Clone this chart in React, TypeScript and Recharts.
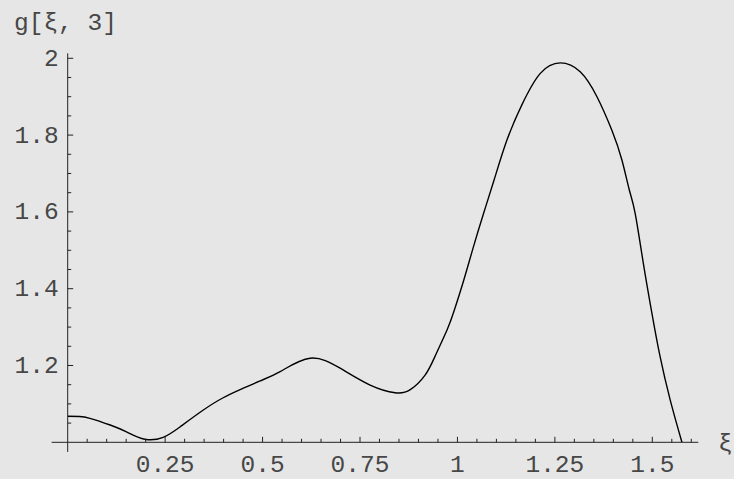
import React from "react";
import { LineChart, Line, XAxis, YAxis, ReferenceLine } from "recharts";

const xiValues = [
  0, 0.03, 0.057, 0.109, 0.151, 0.198, 0.245, 0.288, 0.348, 0.399, 0.447, 0.494, 0.545,
  0.622, 0.699, 0.776, 0.84, 0.879, 0.917, 0.943, 0.973, 0.99, 1.015, 1.041, 1.067, 1.094,
  1.127, 1.165, 1.212, 1.264, 1.315, 1.358, 1.396, 1.422, 1.441, 1.456, 1.477, 1.499,
  1.52, 1.546, 1.576,
];
const gValues = [
  1.068, 1.067, 1.0625, 1.045, 1.027, 1.008, 1.013, 1.04, 1.084, 1.116, 1.139, 1.16, 1.184,
  1.219, 1.193, 1.149, 1.129, 1.137, 1.175, 1.225, 1.292, 1.338, 1.418, 1.509, 1.596, 1.683,
  1.787, 1.878, 1.96, 1.988, 1.965, 1.9, 1.813, 1.735, 1.657, 1.596, 1.466, 1.336,
  1.223, 1.11, 1.0,
];

const xTicks = [
  0.05, 0.1, 0.15, 0.2, 0.25, 0.3, 0.35, 0.4, 0.45, 0.5, 0.55, 0.6, 0.65, 0.7, 0.75,
  0.8, 0.85, 0.9, 0.95, 1, 1.05, 1.1, 1.15, 1.2, 1.25, 1.3, 1.35, 1.4, 1.45, 1.5, 1.55, 1.6,
];
const xMajorLabels: Record<string, string> = {
  "0.25": "0.25", "0.5": "0.5", "0.75": "0.75", "1": "1", "1.25": "1.25", "1.5": "1.5",
};
const yTicks = [
  1.05, 1.1, 1.15, 1.2, 1.25, 1.3, 1.35, 1.4, 1.45, 1.5, 1.55, 1.6, 1.65, 1.7, 1.75,
  1.8, 1.85, 1.9, 1.95, 2,
];
const yMajorLabels: Record<string, string> = {
  "1.2": "1.2", "1.4": "1.4", "1.6": "1.6", "1.8": "1.8", "2": "2",
};

const xDomain: [number, number] = [0, 1.618];
const yDomain: [number, number] = [1, 2.013];
const xAxisStart = -0.0413;
const yAxisStart = 0.975;

const data = xiValues.map((xi, i) => ({ xi, g: gValues[i] }));

const FONT = "'Liberation Mono', 'DejaVu Sans Mono', monospace";
const TEXT = "#474747";
const AXIS = "#222";
const FS = 24.5;

const XTick = (props: any) => {
  const { x, y, payload } = props;
  const key = String(payload.value);
  const label = xMajorLabels[key];
  const len = label ? 5.5 : 3.5;
  return (
    <g>
      <line x1={x} y1={y} x2={x} y2={y - len} stroke={AXIS} strokeWidth={1} />
      {label && (
        <text x={x} y={y + 29.7} textAnchor="middle" fontFamily={FONT} fontSize={FS} fill={TEXT}>
          {label}
        </text>
      )}
    </g>
  );
};

const YTick = (props: any) => {
  const { x, y, payload } = props;
  const key = String(payload.value);
  const label = yMajorLabels[key];
  const len = label ? 5.5 : 3.5;
  return (
    <g>
      <line x1={x} y1={y} x2={x + len} y2={y} stroke={AXIS} strokeWidth={1} />
      {label && (
        <text x={x - 9} y={y + 7.6} textAnchor="end" fontFamily={FONT} fontSize={FS} fill={TEXT}>
          {label}
        </text>
      )}
    </g>
  );
};

export default function App() {
  return (
    <div
      style={{
        position: "absolute",
        left: 0,
        top: 0,
        width: 734,
        height: 479,
        background: "#e6e6e6",
        overflow: "hidden",
      }}
    >
      <LineChart
        width={734}
        height={479}
        data={data}
        margin={{ top: 53.3, right: 35.7, bottom: 6.7, left: 7.7 }}
      >
        <XAxis
          dataKey="xi"
          type="number"
          domain={xDomain}
          ticks={xTicks}
          interval={0}
          axisLine={false}
          tickLine={false}
          tickSize={0}
          tickMargin={0}
          height={30}
          tick={<XTick />}
          allowDataOverflow
        />
        <YAxis
          type="number"
          domain={yDomain}
          ticks={yTicks}
          interval={0}
          axisLine={false}
          tickLine={false}
          tickSize={0}
          tickMargin={0}
          width={60}
          tick={<YTick />}
          allowDataOverflow
        />
        <ReferenceLine
          segment={[
            { x: xAxisStart, y: 1 },
            { x: xDomain[1], y: 1 },
          ]}
          stroke={AXIS}
          strokeWidth={1}
          ifOverflow="visible"
        />
        <ReferenceLine
          segment={[
            { x: 0, y: yAxisStart },
            { x: 0, y: yDomain[1] },
          ]}
          stroke={AXIS}
          strokeWidth={1}
          ifOverflow="visible"
        />
        <Line
          type="natural"
          dataKey="g"
          stroke="#000"
          strokeWidth={1.4}
          dot={false}
          activeDot={false}
          isAnimationActive={false}
        />
      </LineChart>
      <svg
        width={734}
        height={479}
        style={{ position: "absolute", left: 0, top: 0, pointerEvents: "none" }}
      >
        <text x={14} y={29.5} fontFamily={FONT} fontSize={FS} fill={TEXT}>
          g[ξ, 3]
        </text>
        <text x={718} y={451} fontFamily={FONT} fontSize={FS} fill={TEXT}>
          ξ
        </text>
      </svg>
    </div>
  );
}
